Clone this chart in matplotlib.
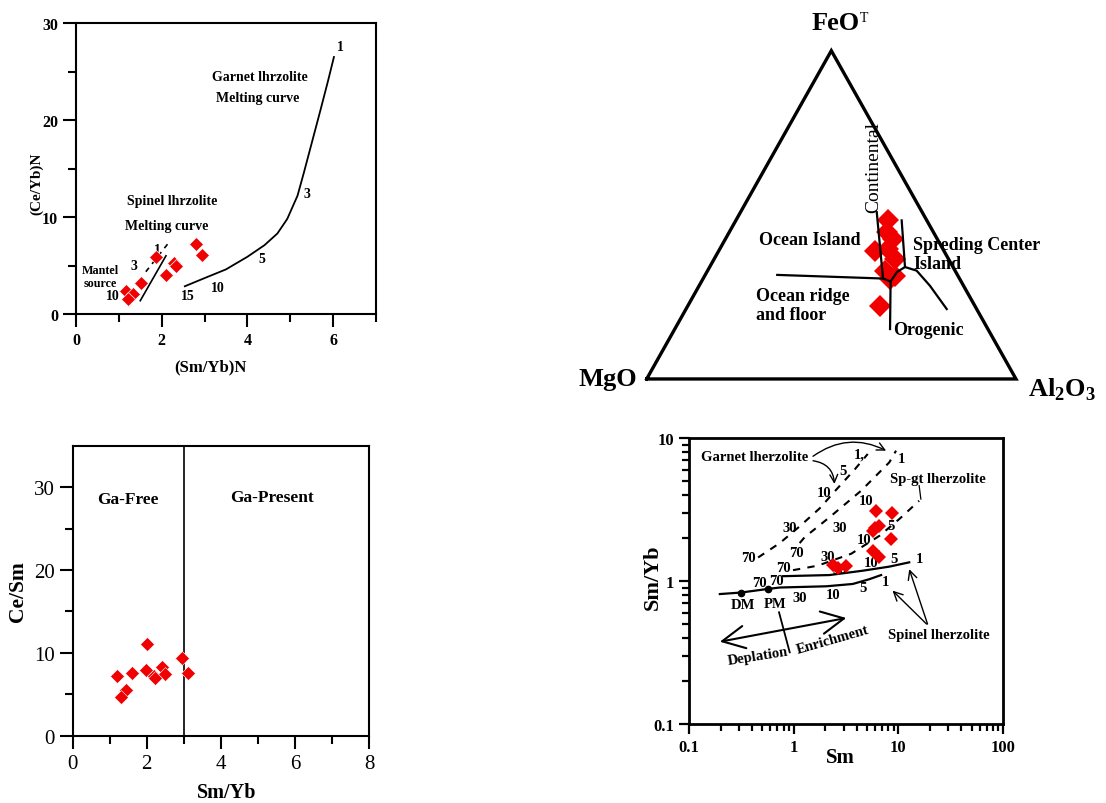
import matplotlib
matplotlib.use('Agg')
import matplotlib.pyplot as plt
import numpy as np

plt.rcParams['font.family'] = ['Liberation Serif', 'DejaVu Serif']
plt.rcParams['mathtext.fontset'] = 'custom'
plt.rcParams['mathtext.rm'] = 'Liberation Serif:bold'
plt.rcParams['mathtext.bf'] = 'Liberation Serif:bold'

RED = '#f00000'

# ---------------- Panel A: (Sm/Yb)N vs (Ce/Yb)N ----------------
a_smyb = [2.79, 2.94, 1.87, 2.28, 2.33, 2.10, 1.51, 1.17, 1.34, 1.21]
a_ceyb = [7.2, 6.1, 5.9, 5.3, 4.9, 4.0, 3.2, 2.4, 2.1, 1.5]
garnet_x = [2.54, 3.0, 3.5, 4.0, 4.4, 4.7, 4.93, 5.17, 5.32, 5.5, 5.71, 5.88, 6.02]
garnet_y = [2.86, 3.7, 4.6, 5.9, 7.1, 8.3, 9.8, 12.2, 14.6, 17.6, 21.1, 24.0, 26.5]
garnet_lbl = ['1', '3', '5', '10', '15']
garnet_lbl_x = [6.16, 5.4, 4.33, 3.3, 2.6]
garnet_lbl_y = [27.6, 12.4, 5.7, 2.75, 1.9]
spinel_solid_x = [1.5, 2.1]
spinel_solid_y = [1.37, 6.0]
spinel_dash_x = [1.63, 2.19]
spinel_dash_y = [4.36, 7.5]
spinel_lbl = ['1', '3', '10']
spinel_lbl_x = [1.89, 1.36, 0.87]
spinel_lbl_y = [6.7, 5.0, 1.9]

# ---------------- Panel B: ternary FeOT-MgO-Al2O3 ----------------
t_feo = [48.3, 44.7, 42.7, 39.1, 39.6, 36.6, 33.0, 31.5, 30.5, 22.3]
t_mgo = [10.4, 12.7, 11.9, 18.6, 14.8, 14.5, 19.0, 17.0, 18.9, 25.7]
t_al = [41.3, 42.6, 45.4, 42.3, 45.6, 48.9, 48.0, 51.5, 50.6, 52.0]
# boundary lines as (FeO %, Al2O3 %)
bnd_horiz_feo = [31.7, 30.6]
bnd_horiz_al = [19.5, 48.7]
bnd_cont_l_feo = [50.8, 30.6, 29.7]
bnd_cont_l_al = [36.9, 48.7, 51.2]
bnd_cont_r_feo = [48.3, 34.1, 32.6, 29.7]
bnd_cont_r_al = [44.9, 52.9, 51.5, 51.2]
bnd_down_feo = [29.7, 15.2]
bnd_down_al = [51.2, 58.3]
bnd_right_feo = [34.1, 33.0, 28.4, 21.3]
bnd_right_al = [52.9, 56.6, 62.5, 70.6]

# ---------------- Panel C: Sm/Yb vs Ce/Sm ----------------
c_smyb = [2.0, 1.21, 1.61, 1.97, 2.2, 2.42, 2.48, 2.22, 2.95, 3.11, 1.44, 1.30]
c_cesm = [11.1, 7.2, 7.6, 7.9, 7.2, 8.3, 7.4, 7.0, 9.4, 7.6, 5.5, 4.7]

# ---------------- Panel D: Sm vs Sm/Yb (log) ----------------
d_sm = [6.13, 8.7, 6.59, 5.7, 8.5, 5.7, 6.59, 2.37, 3.13, 2.65, 6.0]
d_smyb = [3.07, 2.97, 2.44, 2.25, 1.97, 1.63, 1.47, 1.29, 1.28, 1.23, 2.35]
gtA_x = [0.457, 0.736, 1.14, 1.77, 2.55, 3.81, 5.1]
gtA_y = [1.46, 1.84, 2.41, 3.22, 4.35, 6.0, 7.73]
gtB_x = [1.14, 1.27, 2.20, 4.41, 8.2, 9.5]
gtB_y = [1.84, 2.02, 2.79, 4.28, 6.76, 8.15]
spgt_x = [0.985, 1.70, 3.54, 6.6, 10.2, 15.8]
spgt_y = [1.19, 1.28, 1.55, 2.07, 2.71, 3.64]
spU_x = [0.79, 2.2, 4.57, 8.2, 12.7]
spU_y = [1.08, 1.10, 1.18, 1.26, 1.35]
spL_x = [0.197, 0.313, 0.569, 0.736, 2.05, 3.67, 5.3, 6.84]
spL_y = [0.81, 0.83, 0.88, 0.90, 0.918, 0.953, 1.03, 1.10]
dm_pm_x = [0.313, 0.569]
dm_pm_y = [0.83, 0.88]
d_lbl = ['70', '30', '10', '5', '1,',  '70', '30', '10', '1',
         '70', '30', '10', '5',
         '70', '30', '10', '5', '1',
         '70', '30', '10', '5', '1']
d_lbl_x = [0.367, 0.916, 1.97, 2.95, 4.26, 1.06, 2.74, 4.92, 10.8,
           0.79, 2.12, 4.74, 8.5,
           0.68, 2.74, 5.5, 9.1, 15.8,
           0.474, 1.14, 2.4, 4.57, 7.5]
d_lbl_y = [1.47, 2.37, 4.17, 5.9, 7.73, 1.59, 2.37, 3.64, 7.21,
           1.25, 1.49, 1.94, 2.44,
           1.01, 1.21, 1.35, 1.44, 1.44,
           0.98, 0.77, 0.81, 0.90, 0.99]

fig = plt.figure(figsize=(11.06, 8.04), dpi=100)


def style_box(ax, lw, tl_major, tl_minor, tw, lsize, lweight):
    for s in ax.spines.values():
        s.set_linewidth(lw)
    ax.tick_params(which='both', direction='out', width=tw, top=False, right=False)
    ax.tick_params(which='major', length=tl_major, labelsize=lsize)
    ax.tick_params(which='minor', length=tl_minor)
    for t in ax.get_xticklabels() + ax.get_yticklabels():
        t.set_fontweight(lweight)


# ===== Panel A =====
ax1 = fig.add_axes([0.0687, 0.6082, 0.2712, 0.3619])
ax1.plot(garnet_x, garnet_y, color='k', lw=1.3)
ax1.plot(spinel_solid_x, spinel_solid_y, color='k', lw=1.2)
ax1.plot(spinel_dash_x, spinel_dash_y, color='k', lw=1.2, ls=(0, (3, 3)))
ax1.plot(a_smyb, a_ceyb, 'D', color=RED, ms=7.2, mec='white', mew=0.5, zorder=5)
for s, x, y in zip(garnet_lbl, garnet_lbl_x, garnet_lbl_y):
    ax1.text(x, y, s, fontsize=10, fontweight='bold', ha='center', va='center')
for s, x, y in zip(spinel_lbl, spinel_lbl_x, spinel_lbl_y):
    ax1.text(x, y, s, fontsize=10, fontweight='bold', ha='center', va='center', zorder=4)
ax1.text(4.3, 24.5, 'Garnet lhrzolite', fontsize=10, fontweight='bold', ha='center', va='center')
ax1.text(4.25, 22.3, 'Melting curve', fontsize=10, fontweight='bold', ha='center', va='center')
ax1.text(2.24, 11.7, 'Spinel lhrzolite', fontsize=10, fontweight='bold', ha='center', va='center')
ax1.text(2.12, 9.1, 'Melting curve', fontsize=10, fontweight='bold', ha='center', va='center')
ax1.text(0.56, 4.5, 'Mantel', fontsize=8.7, fontweight='bold', ha='center', va='center')
ax1.text(0.56, 3.2, 'source', fontsize=8.7, fontweight='bold', ha='center', va='center')
ax1.set_xlim(0, 7)
ax1.set_ylim(0, 30)
ax1.set_xticks([0, 2, 4, 6])
ax1.set_xticks([1, 3, 5, 7], minor=True)
ax1.set_yticks([0, 10, 20, 30])
ax1.set_yticks([5, 15, 25], minor=True)
style_box(ax1, 1.5, 9.5, 5.8, 1.5, 11.5, 'bold')
ax1.text(0.447, -0.179, '(Sm/Yb)N', transform=ax1.transAxes, fontsize=12,
         fontweight='bold', ha='center', va='center')
ax1.text(-0.13, 0.45, '(Ce/Yb)N', transform=ax1.transAxes, fontsize=11,
         fontweight='bold', ha='center', va='center', rotation=90)

# ===== Panel B: ternary =====
ax2 = fig.add_axes([0.5847, 0.5274, 0.3339, 0.4083])
ax2.set_xlim(0, 1)
ax2.set_ylim(0, 1)
ax2.axis('off')


def tern(feo, al):
    f = np.asarray(feo, float) / 100.0
    a = np.asarray(al, float) / 100.0
    return a + f / 2.0, f


ax2.plot([0, 1, 0.5, 0], [0, 0, 1, 0], color='k', lw=2.4, solid_joinstyle='miter', clip_on=False)
px, py = tern(t_feo, t_al)
ax2.plot(px, py, 'D', color=RED, ms=11, mec=RED, mew=0, zorder=3, clip_on=False)
for fe, al in [(bnd_horiz_feo, bnd_horiz_al), (bnd_cont_l_feo, bnd_cont_l_al),
               (bnd_cont_r_feo, bnd_cont_r_al), (bnd_down_feo, bnd_down_al),
               (bnd_right_feo, bnd_right_al)]:
    xx, yy = tern(fe, al)
    ax2.plot(xx, yy, color='k', lw=1.6, zorder=4)
ax2.text(0.512, 1.087, 'FeO', fontsize=19, fontweight='bold', ha='center', va='center')
ax2.text(0.577, 1.10, 'T', fontsize=10, ha='left', va='center')
ax2.text(-0.105, 0.0, 'MgO', fontsize=19, fontweight='bold', ha='center', va='center')
ax2.text(1.125, -0.03, 'Al$_{2}$O$_{3}$', fontsize=19, fontweight='bold', ha='center', va='center')
ax2.text(0.614, 0.646, 'Continental', fontsize=14, rotation=90, ha='center', va='center')
ax2.text(0.442, 0.425, 'Ocean Island', fontsize=13, fontweight='bold', ha='center', va='center')
ax2.text(0.721, 0.381, 'Spreding Center\nIsland', fontsize=13, fontweight='bold',
         ha='left', va='center', linespacing=1.15)
ax2.text(0.295, 0.226, 'Ocean ridge\nand floor', fontsize=13, fontweight='bold',
         ha='left', va='center', linespacing=1.15)
ax2.text(0.668, 0.152, 'Orogenic', fontsize=13, fontweight='bold', ha='left', va='center')

# ===== Panel C =====
ax3 = fig.add_axes([0.0657, 0.0837, 0.2679, 0.3607])
ax3.axvline(3, color='k', lw=1.2)
ax3.plot(c_smyb, c_cesm, 'D', color=RED, ms=7, mec='white', mew=0.4, zorder=5)
ax3.text(1.5, 28.6, 'Ga-Free', fontsize=12.5, fontweight='bold', ha='center', va='center')
ax3.text(5.38, 28.8, 'Ga-Present', fontsize=12.5, fontweight='bold', ha='center', va='center')
ax3.set_xlim(0, 8)
ax3.set_ylim(0, 35)
ax3.set_xticks([0, 2, 4, 6, 8])
ax3.set_xticks([1, 3, 5, 7], minor=True)
ax3.set_yticks([0, 10, 20, 30])
ax3.set_yticks([5, 15, 25], minor=True)
style_box(ax3, 1.5, 9.5, 5.8, 1.5, 15, 'normal')
ax3.text(0.52, -0.195, 'Sm/Yb', transform=ax3.transAxes, fontsize=14.5,
         fontweight='bold', ha='center', va='center')
ax3.text(-0.185, 0.5, 'Ce/Sm', transform=ax3.transAxes, fontsize=15.5,
         fontweight='bold', ha='center', va='center', rotation=90)

# ===== Panel D =====
ax4 = fig.add_axes([0.623, 0.0983, 0.2839, 0.3557])
ax4.set_xscale('log')
ax4.set_yscale('log')
ax4.set_xlim(0.1, 100)
ax4.set_ylim(0.1, 10)
dash = (0, (3.5, 3.5))
ax4.plot(gtA_x, gtA_y, color='k', lw=1.5, ls=dash)
ax4.plot(gtB_x, gtB_y, color='k', lw=1.5, ls=dash)
ax4.plot(spgt_x, spgt_y, color='k', lw=1.5, ls=dash)
ax4.plot(spU_x, spU_y, color='k', lw=1.6)
ax4.plot(spL_x, spL_y, color='k', lw=1.6)
ax4.plot(dm_pm_x, dm_pm_y, 'o', color='k', ms=4.5)
ax4.plot(d_sm, d_smyb, 'D', color=RED, ms=7.5, mec=RED, mew=0, zorder=5)
for s, x, y in zip(d_lbl, d_lbl_x, d_lbl_y):
    ax4.text(x, y, s, fontsize=10.5, fontweight='bold', ha='center', va='center', zorder=4)
ax4.text(0.33, 0.69, 'DM', fontsize=10.5, fontweight='bold', ha='center', va='center')
ax4.text(0.67, 0.70, 'PM', fontsize=10.5, fontweight='bold', ha='center', va='center')
ax4.plot([0.724, 0.916], [0.604, 0.317], color='k', lw=1.3)
ax4.annotate('', xy=(0.197, 0.376), xytext=(3.18, 0.551),
             arrowprops=dict(arrowstyle='<->,head_length=0.9,head_width=0.45',
                             lw=1.5, color='k', mutation_scale=18, shrinkA=0, shrinkB=0))
ax4.text(0.457, 0.30, 'Deplation', fontsize=10.5, fontweight='bold', rotation=9,
         ha='center', va='center')
ax4.text(2.37, 0.389, 'Enrichment', fontsize=10.5, fontweight='bold', rotation=16,
         ha='center', va='center')
ax4.text(0.425, 7.45, 'Garnet lherzolite', fontsize=10.5, fontweight='bold',
         ha='center', va='center')
ax4.annotate('', xy=(7.64, 8.15), xytext=(1.53, 7.45),
             arrowprops=dict(arrowstyle='->', lw=1.0, color='k', shrinkA=0, shrinkB=0,
                             connectionstyle='arc3,rad=-0.3', mutation_scale=14))
ax4.annotate('', xy=(2.45, 4.77), xytext=(1.53, 6.93),
             arrowprops=dict(arrowstyle='->', lw=1.0, color='k', shrinkA=0, shrinkB=0,
                             connectionstyle='arc3,rad=-0.4', mutation_scale=14))
ax4.text(23.7, 5.17, 'Sp-gt lherzolite', fontsize=10.5, fontweight='bold',
         ha='center', va='center')
ax4.plot([15.8, 16.4], [4.64, 3.74], color='k', lw=0.9)
ax4.text(24.5, 0.42, 'Spinel lherzolite', fontsize=10.5, fontweight='bold',
         ha='center', va='center')
ax4.annotate('', xy=(12.7, 1.21), xytext=(19.0, 0.50),
             arrowprops=dict(arrowstyle='->', lw=1.0, color='k', shrinkA=0, shrinkB=0,
                             mutation_scale=16))
ax4.annotate('', xy=(8.8, 0.856), xytext=(18.6, 0.50),
             arrowprops=dict(arrowstyle='->', lw=1.0, color='k', shrinkA=0, shrinkB=0,
                             mutation_scale=16))
ax4.set_xticks([0.1, 1, 10, 100])
ax4.set_xticklabels(['0.1', '1', '10', '100'])
ax4.set_yticks([0.1, 1, 10])
ax4.set_yticklabels(['0.1', '1', '10'])
style_box(ax4, 2.0, 7, 5, 1.6, 12, 'bold')
ax4.text(0.481, -0.115, 'Sm', transform=ax4.transAxes, fontsize=15,
         fontweight='bold', ha='center', va='center')
ax4.text(-0.115, 0.517, 'Sm/Yb', transform=ax4.transAxes, fontsize=16,
         fontweight='bold', ha='center', va='center', rotation=90)

fig.savefig('out.png', dpi=100)
